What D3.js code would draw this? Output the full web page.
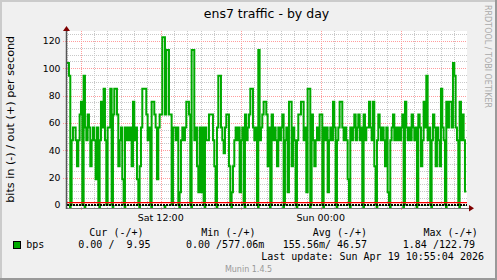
<!DOCTYPE html>
<html>
<head>
<meta charset="utf-8">
<script src="https://d3js.org/d3.v7.min.js"></script>
<style>
body { margin: 0; background: #f0f0f0; }
svg { display: block; }
text { white-space: pre; }
</style>
</head>
<body>
<svg id="visual" width="497" height="280"></svg>
<script>
// chart data
var title = "ens7 traffic - by day";
var vlabel = "bits in (-) / out (+) per second";
var startTime = new Date(2026, 3, 18, 4, 55, 4);
var endTime = new Date(2026, 3, 19, 10, 55, 4);
var stepMinutes = 6;

// out (+), ten values per hour
var outValues = [
	103.9, 103.9, 94.5, 0.58, 47.3, 56.7, 56.7, 47.3, 28.4, 47.3,
	66.2, 75.6, 0.58, 94.5, 56.7, 47.3, 66.2, 56.7, 28.4, 47.3,
	56.7, 47.3, 18.9, 56.7, 0.58, 47.3, 75.6, 56.7, 85.1, 47.3,
	0.58, 56.7, 56.7, 85.1, 0.58, 66.2, 85.1, 85.1, 66.2, 28.4,
	47.3, 56.7, 18.9, 0.58, 56.7, 47.3, 56.7, 47.3, 56.7, 28.4,
	75.6, 47.3, 56.7, 18.9, 0.58, 28.4, 56.7, 85.1, 85.1, 85.1,
	66.2, 47.3, 56.7, 0.58, 75.6, 75.6, 66.2, 56.7, 18.9, 56.7,
	66.2, 66.2, 122.79, 122.79, 66.2, 113.4, 113.4, 66.2, 66.2, 0.58,
	56.7, 56.7, 47.3, 56.7, 0.58, 9.4, 47.3, 56.7, 47.3, 56.7,
	75.6, 75.6, 66.2, 0.58, 113.4, 113.4, 47.3, 56.7, 28.4, 9.4,
	56.7, 9.4, 56.7, 0.58, 56.7, 47.3, 47.3, 66.2, 66.2, 66.2,
	47.3, 28.4, 0.58, 56.7, 94.5, 94.5, 56.7, 47.3, 37.8, 56.7,
	66.2, 66.2, 28.4, 0.58, 9.4, 28.4, 47.3, 56.7, 47.3, 56.7,
	9.4, 47.3, 56.7, 0.58, 66.2, 47.3, 56.7, 66.2, 85.1, 85.1,
	56.7, 47.3, 56.7, 0.58, 113.4, 47.3, 56.7, 66.2, 75.6, 75.6,
	66.2, 28.4, 56.7, 0.58, 66.2, 47.3, 56.7, 47.3, 28.4, 56.7,
	47.3, 56.7, 66.2, 0.58, 47.3, 56.7, 9.4, 75.6, 75.6, 28.4,
	56.7, 47.3, 0.58, 47.3, 66.2, 66.2, 75.6, 75.6, 47.3, 56.7,
	9.4, 85.1, 85.1, 0.58, 66.2, 47.3, 28.4, 47.3, 56.7, 47.3,
	66.2, 66.2, 0.58, 56.7, 47.3, 56.7, 9.4, 47.3, 56.7, 47.3,
	75.6, 56.7, 0.58, 47.3, 56.7, 75.6, 75.6, 56.7, 47.3, 56.7,
	47.3, 18.9, 0.58, 56.7, 47.3, 56.7, 66.2, 47.3, 56.7, 66.2,
	47.3, 56.7, 0.58, 66.2, 47.3, 56.7, 56.7, 75.6, 56.7, 47.3,
	75.6, 28.4, 0.58, 47.3, 66.2, 56.7, 47.3, 56.7, 47.3, 28.4,
	56.7, 9.4, 0.58, 47.3, 56.7, 66.2, 47.3, 56.7, 47.3, 56.7,
	47.3, 56.7, 66.2, 0.58, 75.6, 56.7, 47.3, 56.7, 47.3, 66.2,
	56.7, 47.3, 56.7, 0.58, 66.2, 56.7, 28.4, 47.3, 75.6, 56.7,
	94.5, 47.3, 56.7, 0.58, 47.3, 66.2, 56.7, 28.4, 56.7, 47.3,
	28.4, 85.1, 56.7, 47.3, 0.58, 75.6, 56.7, 75.6, 75.6, 56.7,
	103.9, 94.5, 56.7, 47.3, 0.58, 75.6, 47.3, 66.2, 47.3, 9.95
];

// in (-), drawn below zero
var inValues = [
	0, 0, 1.84, 1.84, 0, 0, 0, 0, 0, 0,
	0, 0, 0, 1.84, 1.84, 0, 0, 0, 0, 0,
	0, 0, 0, 0, 1.84, 1.84, 0, 0, 0, 0,
	0, 0, 0, 0, 1.84, 1.84, 0, 0, 0, 0,
	0, 0, 0, 1.84, 1.84, 0, 0, 0, 0, 0,
	0, 0, 0, 0, 1.84, 1.84, 0, 0, 0, 0,
	0, 0, 0, 1.84, 1.84, 0, 0, 0, 0, 0,
	0, 0, 0, 1.84, 1.84, 0, 0, 0, 0, 0,
	0, 0, 0, 0, 1.84, 1.84, 0, 0, 0, 0,
	0, 0, 0, 1.84, 1.84, 0, 0, 0, 0, 0,
	0, 0, 0, 1.84, 1.84, 0, 0, 0, 0, 0,
	0, 0, 1.84, 1.84, 0, 0, 0, 0, 0, 0,
	0, 0, 0, 1.84, 1.84, 0, 0, 0, 0, 0,
	0, 0, 0, 1.84, 1.84, 0, 0, 0, 0, 0,
	0, 0, 0, 1.84, 1.84, 0, 0, 0, 0, 0,
	0, 0, 1.84, 1.84, 0, 0, 0, 0, 0, 0,
	0, 0, 1.84, 1.84, 0, 0, 0, 0, 0, 0,
	0, 0, 1.84, 1.84, 0, 0, 0, 0, 0, 0,
	0, 0, 1.84, 1.84, 0, 0, 0, 0, 0, 0,
	0, 0, 1.84, 1.84, 0, 0, 0, 0, 0, 0,
	0, 0, 1.84, 1.84, 0, 0, 0, 0, 0, 0,
	0, 0, 1.84, 1.84, 0, 0, 0, 0, 0, 0,
	0, 0, 1.84, 1.84, 0, 0, 0, 0, 0, 0,
	0, 0, 1.84, 1.84, 0, 0, 0, 0, 0, 0,
	0, 0, 1.84, 1.84, 0, 0, 0, 0, 0, 0,
	0, 0, 1.84, 1.84, 0, 0, 0, 0, 0, 0,
	0, 0, 1.84, 1.84, 0, 0, 0, 0, 0, 0,
	0, 0, 0, 1.84, 1.84, 0, 0, 0, 0, 0,
	0, 0, 0, 0, 1.84, 1.84, 0, 0, 0, 0,
	0, 0, 0, 0, 1.84, 1.84, 0, 0, 0, 0
];

var redRule = 1.7;
var yTicks = [0, 20, 40, 60, 80, 100, 120];
var xLabelTimes = [new Date(2026, 3, 18, 12, 0), new Date(2026, 3, 19, 0, 0)];
var xLabels = ["Sat 12:00", "Sun 00:00"];
var legendName = "bps";
var legendHead = ["Cur (-/+)", "Min (-/+)", "Avg (-/+)", "Max (-/+)"];
var legendVals = ["0.00 /  9.95", "0.00 /577.06m", "155.56m/ 46.57", "1.84 /122.79"];
var lastUpdate = "Last update: Sun Apr 19 10:55:04 2026";
var credit = "Munin 1.4.5";
var watermark = "RRDTOOL / TOBI OETIKER";

var green = "#00aa00";
var W = 497, H = 280;
var sans = "'DejaVu Sans', sans-serif";
var mono = "'DejaVu Sans Mono', monospace";

var svg = d3.select("#visual");

// background with rrdtool style shading
svg.append("rect").attr("width", W).attr("height", H).attr("fill", "#f0f0f0");
svg.append("rect").attr("width", W).attr("height", 2).attr("fill", "#cbcbcb");
svg.append("rect").attr("width", 2).attr("height", H).attr("fill", "#cbcbcb");
svg.append("rect").attr("y", H - 2).attr("width", W).attr("height", 2).attr("fill", "#999");
svg.append("rect").attr("x", W - 2).attr("width", 2).attr("height", H).attr("fill", "#999");

var x = d3.scaleTime()
	.domain([startTime, endTime])
	.range([66.3, 466.3]);
var y = d3.scaleLinear()
	.domain([-2.2, 127.3])
	.range([208, 31]);

var series = outValues.map(function(v, i) {
	return { t: new Date(startTime.getTime() + i * stepMinutes * 60000), out: v, inp: inValues[i] };
});
var last = series[series.length - 1];
var stepSeries = series.concat([{ t: endTime, out: last.out, inp: last.inp }]);

// canvas
svg.append("rect")
	.attr("x", 66).attr("y", 31)
	.attr("width", 401).attr("height", 177)
	.attr("fill", "#ffffff");

function px(v) { return Math.round(v) + 0.5; }

// grid
var grid = svg.append("g");
var hours = d3.timeHour.range(startTime, endTime);
hours.forEach(function(h) {
	var major = h.getHours() % 6 == 0;
	grid.append("line")
		.attr("x1", px(x(h))).attr("x2", px(x(h)))
		.attr("y1", 31).attr("y2", major ? 211 : 208)
		.attr("stroke", major ? "#ff9c9c" : "#c8c8c8")
		.attr("stroke-dasharray", "1,1");
});
d3.range(5, 127, 5).forEach(function(v) {
	var major = v % 20 == 0;
	grid.append("line")
		.attr("x1", major ? 63 : 66).attr("x2", 467)
		.attr("y1", px(y(v))).attr("y2", px(y(v)))
		.attr("stroke", major ? "#ff9c9c" : "#c8c8c8")
		.attr("stroke-dasharray", "1,1");
});

// out line
var outLine = d3.line()
	.x(function(d) { return x(d.t); })
	.y(function(d) { return y(d.out); })
	.curve(d3.curveStepAfter);
svg.append("path")
	.datum(stepSeries)
	.attr("d", outLine)
	.attr("fill", "none")
	.attr("stroke", green)
	.attr("stroke-width", 2);

// in area (negative)
var inArea = d3.area()
	.x(function(d) { return x(d.t); })
	.y0(y(0))
	.y1(function(d) { return y(-d.inp) + 0.5; })
	.curve(d3.curveStepAfter);
svg.append("path")
	.datum(stepSeries)
	.attr("d", inArea)
	.attr("fill", green);

// rules
svg.append("line")
	.attr("x1", 66).attr("x2", 467)
	.attr("y1", y(redRule)).attr("y2", y(redRule))
	.attr("stroke", "#ff0000")
	.attr("stroke-width", 1.4);
svg.append("line")
	.attr("x1", 67).attr("x2", 467)
	.attr("y1", y(0)).attr("y2", y(0))
	.attr("stroke", "#000")
	.attr("stroke-width", 2)
	.attr("stroke-dasharray", "2,1");

// axes
svg.append("line")
	.attr("x1", 66).attr("x2", 470)
	.attr("y1", 208.5).attr("y2", 208.5)
	.attr("stroke", "#777");
svg.append("line")
	.attr("x1", 66.5).attr("x2", 66.5)
	.attr("y1", 29).attr("y2", 209)
	.attr("stroke", "#555")
	.attr("stroke-width", 1.5);
svg.append("path")
	.attr("d", "M63,31L70,31L66.5,26Z")
	.attr("fill", "#7f0000");
svg.append("path")
	.attr("d", "M469,205L469,211.5L474,208.3Z")
	.attr("fill", "#7f0000");

// y tick labels
svg.selectAll(".ylab")
	.data(yTicks)
	.enter().append("text")
	.attr("x", 60.5)
	.attr("y", function(d) { return y(d); })
	.attr("dy", "0.36em")
	.attr("text-anchor", "end")
	.style("font-family", sans)
	.style("font-size", "9.3px")
	.text(function(d) { return d; });

// x tick labels
svg.selectAll(".xlab")
	.data(xLabelTimes)
	.enter().append("text")
	.attr("x", function(d) { return x(d); })
	.attr("y", 221)
	.attr("text-anchor", "middle")
	.style("font-family", sans)
	.style("font-size", "9.5px")
	.text(function(d, i) { return xLabels[i]; });

// title and unit label
svg.append("text")
	.attr("x", 266.5).attr("y", 18)
	.attr("text-anchor", "middle")
	.style("font-family", sans)
	.style("font-size", "12.5px")
	.text(title);
svg.append("text")
	.attr("transform", "translate(14.3,119.3) rotate(-90)")
	.attr("text-anchor", "middle")
	.style("font-family", sans)
	.style("font-size", "11.2px")
	.text(vlabel);
svg.append("text")
	.attr("transform", "translate(485,5) rotate(90)")
	.style("font-family", sans)
	.style("font-size", "8px")
	.attr("fill", "#aaa")
	.text(watermark);

// legend
var headX = [89.3, 201.3, 312.8, 423.5];
var valX = [78.3, 186, 282.8, 402.8];
legendHead.forEach(function(s, i) {
	svg.append("text")
		.attr("x", headX[i]).attr("y", 235.6)
		.style("font-family", mono)
		.style("font-size", "10px")
		.text(s);
});
svg.append("rect")
	.attr("x", 13.5).attr("y", 241.5)
	.attr("width", 7).attr("height", 7)
	.attr("fill", green)
	.attr("stroke", "#000");
svg.append("text")
	.attr("x", 26.2).attr("y", 248.3)
	.style("font-family", mono)
	.style("font-size", "10px")
	.text(legendName);
legendVals.forEach(function(s, i) {
	svg.append("text")
		.attr("x", valX[i]).attr("y", 248.3)
		.style("font-family", mono)
		.style("font-size", "10px")
		.text(s);
});
svg.append("text")
	.attr("x", 484).attr("y", 260)
	.attr("text-anchor", "end")
	.style("font-family", mono)
	.style("font-size", "10px")
	.text(lastUpdate);
svg.append("text")
	.attr("x", 248.5).attr("y", 271.6)
	.attr("text-anchor", "middle")
	.style("font-family", sans)
	.style("font-size", "8px")
	.attr("fill", "#999")
	.text(credit);
</script>
</body>
</html>
